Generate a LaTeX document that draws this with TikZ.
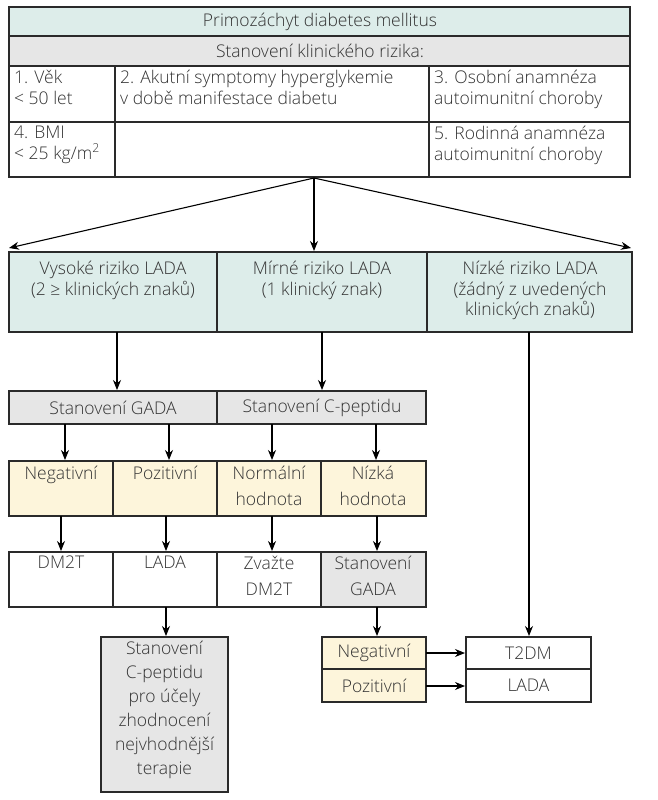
\documentclass[tikz,border=0pt]{standalone}
\usepackage{fontspec}
\setmainfont{Open Sans Light}[BoldFont=Open Sans]
\usetikzlibrary{arrows.meta}
\definecolor{teal}{HTML}{DDEDEA}
\definecolor{gr}{HTML}{E6E6E6}
\definecolor{yl}{HTML}{FDF5DB}
\definecolor{ln}{HTML}{2A2A2A}
\begin{document}
\begin{tikzpicture}[x=1pt,y=-1pt,
  bx/.style={draw=ln,line width=1.2pt},
  t/.style={font=\fontsize{17.5}{20.5}\selectfont,text=black!80,align=center,inner sep=0pt},
  t2/.style={t,font=\fontsize{17.5}{25.5}\selectfont},
  tl/.style={t,align=left,anchor=north west},
  ar/.style={draw=black,line width=1.1pt,-{Stealth[length=10pt,width=8pt]}}]
\useasboundingbox (0,0) rectangle (658,800);
% top table
\fill[teal] (9,7) rectangle (630,36);
\fill[gr] (9,36) rectangle (630,66);
\draw[bx] (9,7) rectangle (630,177);
\draw[bx] (9,36)--(630,36) (9,66)--(630,66) (9,122)--(630,122);
\draw[bx] (115,66)--(115,177) (429,66)--(429,177);
\node[t] (h1) at (320,22) {Primozáchyt diabetes mellitus};
\node[t] (h2) at (320,51) {Stanovení klinického rizika:};
\node[tl] (c1) at (14,70) {1. Věk\\< 50 let};
\node[tl] (c2) at (120,70) {2. Akutní symptomy hyperglykemie\\v době manifestace diabetu};
\node[tl] (c3) at (434,70) {3. Osobní anamnéza\\autoimunitní choroby};
\node[tl] (c4) at (14,126) {4. BMI\\< 25 kg/m\textsuperscript{2}};
\node[tl] (c5) at (434,126) {5. Rodinná anamnéza\\autoimunitní choroby};
\coordinate (top) at (314,178);
% risk row
\fill[teal] (9,252) rectangle (632,332);
\draw[bx] (9,252) rectangle (632,332);
\draw[bx] (217,252)--(217,332) (427,252)--(427,332);
\node[t,anchor=north] (r1) at (113,261) {Vysoké riziko LADA\\(2 ≥ klinických znaků)};
\node[t,anchor=north] (r2) at (322,261) {Mírné riziko LADA\\(1 klinický znak)};
\node[t,anchor=north] (r3) at (530,261) {Nízké riziko LADA\\(žádný z uvedených\\klinických znaků)};
\coordinate (a1) at (9,248); \coordinate (a2) at (314,251); \coordinate (a3) at (631,248);
\draw[ar] (top)--(a1); \draw[ar] (top)--(a2); \draw[ar] (top)--(a3);
% GADA / C-pep
\fill[gr] (9,391) rectangle (426,424);
\draw[bx] (9,391) rectangle (426,424);
\draw[bx] (217,391)--(217,424);
\node[t] (g1) at (113,407.5) {Stanovení GADA};
\node[t] (g2) at (322,407.5) {Stanovení C-peptidu};
\draw[ar] (117,332)--(117,390);
\draw[ar] (322,332)--(322,390);
% yellow row
\fill[yl] (9,461) rectangle (426,516);
\draw[bx] (9,461) rectangle (426,516);
\draw[bx] (113,461)--(113,516) (217,461)--(217,516) (321,461)--(321,516);
\node[t2,anchor=north] (y1) at (61,466) {Negativní};
\node[t2,anchor=north] (y2) at (165,466) {Pozitivní};
\node[t2,anchor=north] (y3) at (269,466) {Normální\\hodnota};
\node[t2,anchor=north] (y4) at (373,466) {Nízká\\hodnota};
\foreach \x in {65,169,272,376} \draw[ar] (\x,424)--(\x,460);
% result row
\fill[gr] (321,552) rectangle (426,607);
\draw[bx] (9,552) rectangle (426,607);
\draw[bx] (113,552)--(113,607) (217,552)--(217,607) (321,552)--(321,607);
\node[t2,anchor=north] (d1) at (61,556) {DM2T};
\node[t2,anchor=north] (d2) at (165,556) {LADA};
\node[t2,anchor=north] (d3) at (269,556) {Zvažte\\DM2T};
\node[t2,anchor=north] (d4) at (373,556) {Stanovení\\GADA};
\foreach \x in {61,166,272,377} \draw[ar] (\x,516)--(\x,551);
% bottom left
\fill[gr] (101,637) rectangle (228,792);
\draw[bx] (101,637) rectangle (228,792);
\node[t,anchor=north,font=\fontsize{17.5}{24}\selectfont] (s) at (164.5,641) {Stanovení\\C-peptidu\\pro účely\\zhodnocení\\nejvhodnější\\terapie};
\draw[ar] (166,607)--(166,636);
% bottom right
\fill[yl] (322,637) rectangle (426,702);
\draw[bx] (322,637) rectangle (426,702);
\draw[bx] (322,669)--(426,669);
\draw[bx] (466,637) rectangle (591,702);
\draw[bx] (466,669)--(591,669);
\node[t] (n1) at (374,653) {Negativní};
\node[t] (p1) at (374,685.5) {Pozitivní};
\node[t] (o1) at (528.5,653) {T2DM};
\node[t] (o2) at (528.5,685.5) {LADA};
\draw[ar] (377,607)--(377,636);
\draw[ar] (529,332)--(529,636);
\draw[ar] (426,653)--(465,653);
\draw[ar] (426,686)--(465,686);
\end{tikzpicture}
\end{document}
